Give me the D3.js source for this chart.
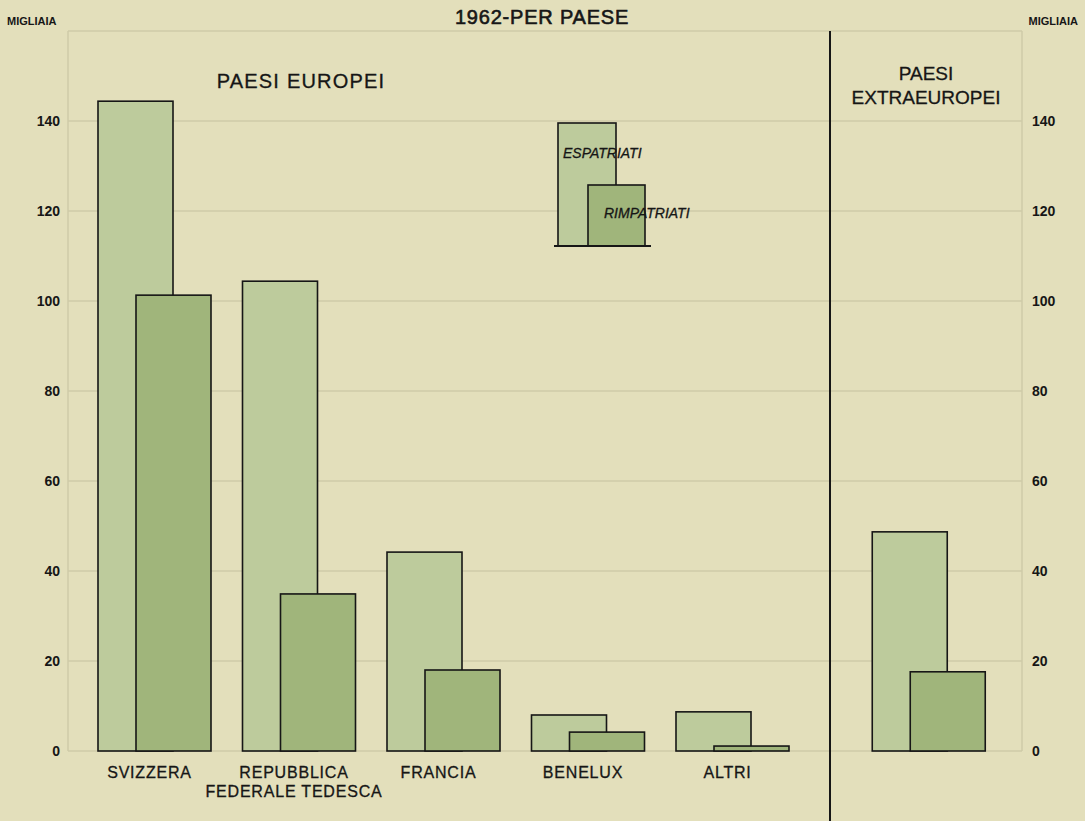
<!DOCTYPE html>
<html><head><meta charset="utf-8">
<script src="https://cdn.jsdelivr.net/npm/d3@7"></script>
<style>
html,body{margin:0;padding:0;background:#e3dfbb;}
svg{display:block;font-family:"Liberation Sans",Arial,sans-serif;}
</style></head>
<body>
<svg id="chart" width="1085" height="821"></svg>
<script>
const europeCategories = ["SVIZZERA", "REPUBBLICA\nFEDERALE TEDESCA", "FRANCIA", "BENELUX", "ALTRI"];
const europeEspatriati = [144.4, 104.4, 44.2, 8.0, 8.7];
const europeRimpatriati = [101.3, 34.9, 18.0, 4.2, 1.1];
const extraCategories = [""];
const extraEspatriati = [48.7];
const extraRimpatriati = [17.6];
const yTicks = [0, 20, 40, 60, 80, 100, 120, 140];
const seriesNames = ["ESPATRIATI", "RIMPATRIATI"];
const titleText = "1962-PER PAESE";
const unitLabel = "MIGLIAIA";

const svg = d3.select("#chart");
const W = 1085, H = 821;
const plotL = 68, plotR = 1022, plotT = 31;
const colEsp = "#bdcb9c", colRimp = "#a0b57b", gridCol = "#cfcba8";
const ink = "#161616";

svg.append("rect").attr("width", W).attr("height", H).attr("fill", "#e3dfbb");

const y = d3.scaleLinear().domain([0, 160]).range([751, 31]);

// frame
svg.append("line").attr("x1", plotL).attr("x2", plotL).attr("y1", plotT).attr("y2", y(0)).attr("stroke", gridCol).attr("stroke-width", 1.5);
svg.append("line").attr("x1", plotR).attr("x2", plotR).attr("y1", plotT).attr("y2", y(0)).attr("stroke", gridCol).attr("stroke-width", 1.5);
svg.append("line").attr("x1", plotL).attr("x2", plotR).attr("y1", plotT).attr("y2", plotT).attr("stroke", gridCol).attr("stroke-width", 1.5);

// grid
svg.append("g").selectAll("line").data(yTicks).join("line")
  .attr("x1", plotL).attr("x2", plotR)
  .attr("y1", d => y(d)).attr("y2", d => y(d))
  .attr("stroke", gridCol).attr("stroke-width", 1.5);

// axes
function styleAxis(g) {
  g.select(".domain").remove();
  g.selectAll("text").attr("font-size", 14).attr("font-weight", "bold").attr("fill", ink)
    .attr("font-family", "Liberation Sans, Arial, sans-serif");
}
svg.append("g").attr("transform", `translate(${plotL},0)`)
  .call(d3.axisLeft(y).tickValues(yTicks).tickSize(0).tickPadding(8)).call(styleAxis);
svg.append("g").attr("transform", `translate(${plotR},0)`)
  .call(d3.axisRight(y).tickValues(yTicks).tickSize(0).tickPadding(10)).call(styleAxis);

// divider
svg.append("line").attr("x1", 830).attr("x2", 830).attr("y1", plotT).attr("y2", H).attr("stroke", ink).attr("stroke-width", 2);

// scales for groups
const xEu = d3.scaleBand().domain(europeCategories).range([82.25, 804.75]).paddingInner(0).paddingOuter(0);
const xEx = d3.scaleBand().domain(extraCategories).range([856.5, 1001]).paddingInner(0).paddingOuter(0);
const barW = 75, off = 38;

function drawGroup(xs, cats, esp, rimp) {
  const g = svg.append("g");
  const data = cats.map((c, i) => ({ c, esp: esp[i], rimp: rimp[i] }));
  data.forEach(d => {
    const cx = xs(d.c) + xs.bandwidth() / 2;
    const x0 = cx - (barW + off) / 2;
    g.append("rect").attr("x", x0).attr("y", y(d.esp)).attr("width", barW).attr("height", y(0) - y(d.esp))
      .attr("fill", colEsp).attr("stroke", ink).attr("stroke-width", 1.6);
    g.append("rect").attr("x", x0 + off).attr("y", y(d.rimp)).attr("width", barW).attr("height", y(0) - y(d.rimp))
      .attr("fill", colRimp).attr("stroke", ink).attr("stroke-width", 1.6);
    const lines = d.c.split("\n");
    lines.forEach((ln, k) => {
      g.append("text").attr("x", cx - 5).attr("y", 778 + k * 19).attr("text-anchor", "middle")
        .attr("font-size", 16).attr("fill", ink).attr("stroke", ink).attr("stroke-width", 0.3)
        .attr("letter-spacing", 0.8).text(ln);
    });
  });
}
drawGroup(xEu, europeCategories, europeEspatriati, europeRimpatriati);
drawGroup(xEx, extraCategories, extraEspatriati, extraRimpatriati);

// titles
svg.append("text").attr("x", 542).attr("y", 24).attr("text-anchor", "middle").attr("font-size", 20)
  .attr("fill", ink).attr("stroke", ink).attr("stroke-width", 0.6).attr("letter-spacing", 0.8).text(titleText);
svg.append("text").attr("x", 7).attr("y", 25).attr("font-size", 11).attr("font-weight", "bold").attr("fill", ink).text(unitLabel);
svg.append("text").attr("x", 1078).attr("y", 25).attr("text-anchor", "end").attr("font-size", 11).attr("font-weight", "bold").attr("fill", ink).text(unitLabel);
svg.append("text").attr("x", 301).attr("y", 88).attr("text-anchor", "middle").attr("font-size", 20)
  .attr("fill", ink).attr("stroke", ink).attr("stroke-width", 0.3).attr("letter-spacing", 1.2).text("PAESI  EUROPEI");
svg.append("text").attr("x", 926).attr("y", 80).attr("text-anchor", "middle").attr("font-size", 19)
  .attr("fill", ink).attr("stroke", ink).attr("stroke-width", 0.3).text("PAESI");
svg.append("text").attr("x", 926).attr("y", 104).attr("text-anchor", "middle").attr("font-size", 19)
  .attr("fill", ink).attr("stroke", ink).attr("stroke-width", 0.3).text("EXTRAEUROPEI");

// legend
const lg = svg.append("g");
const legY0 = 246;
lg.append("rect").attr("x", 558).attr("y", 123).attr("width", 58).attr("height", legY0 - 123).attr("fill", colEsp).attr("stroke", ink).attr("stroke-width", 1.6);
lg.append("rect").attr("x", 588).attr("y", 185).attr("width", 57).attr("height", legY0 - 185).attr("fill", colRimp).attr("stroke", ink).attr("stroke-width", 1.6);
lg.append("line").attr("x1", 554).attr("x2", 651).attr("y1", legY0).attr("y2", legY0).attr("stroke", ink).attr("stroke-width", 1.8);
lg.append("text").attr("x", 563).attr("y", 158).attr("font-size", 14).attr("font-style", "italic").attr("fill", ink).attr("stroke", ink).attr("stroke-width", 0.3).text(seriesNames[0]);
lg.append("text").attr("x", 604).attr("y", 218).attr("font-size", 14).attr("font-style", "italic").attr("fill", ink).attr("stroke", ink).attr("stroke-width", 0.3).text(seriesNames[1]);
</script>
</body></html>
